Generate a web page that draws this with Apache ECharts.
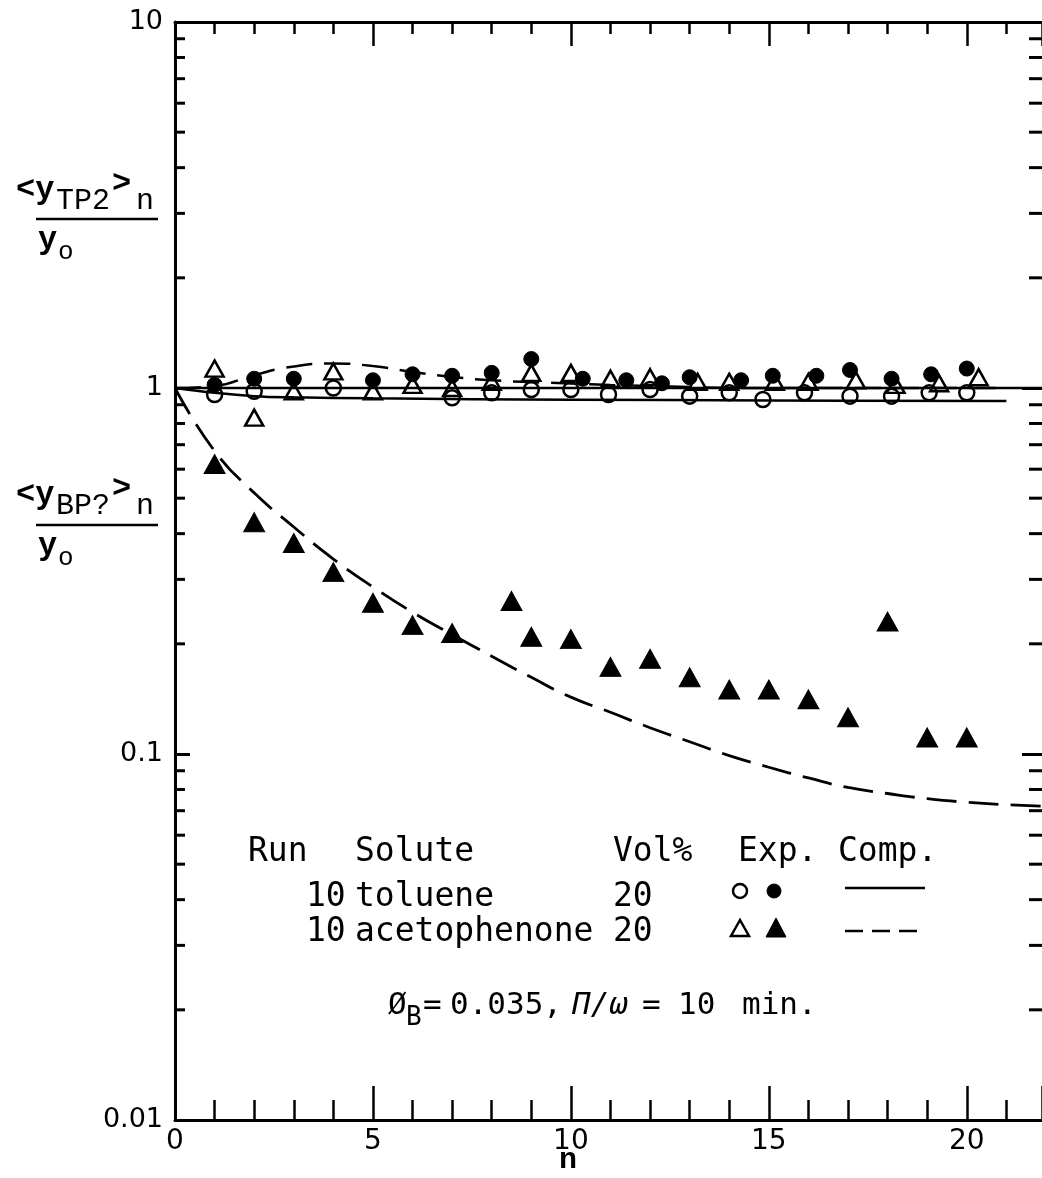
<!DOCTYPE html>
<html><head><meta charset="utf-8">
<script src="https://cdn.jsdelivr.net/npm/echarts@6/dist/echarts.min.js"></script>
<style>html,body{margin:0;padding:0;background:#fff;overflow:hidden}#c{width:1042px;height:1178px}</style>
</head><body><div id="c"></div>
<script>
// ---- tick labels ----
const xTickLabels = [0, 5, 10, 15, 20];
const yTickLabels = ['0.01', '0.1', '1', '10'];
const yMinorTicks = [0.02,0.03,0.04,0.05,0.06,0.07,0.08,0.09,
                     0.2,0.3,0.4,0.5,0.6,0.7,0.8,0.9,
                     2,3,4,5,6,7,8,9];
const xAxisTitle = 'n';

// ---- experimental data ----
const tolOpenX   = [1,2,4,7,8,9,10,10.95,12,13,14,14.85,15.9,17.05,18.1,19.05,20];
const tolOpenY   = [0.96,0.98,1.0,0.94,0.97,0.99,0.99,0.96,0.99,0.95,0.97,0.93,0.97,0.95,0.95,0.97,0.97];
const tolFilledX = [1,2,3,5,6,7,8,9,10.3,11.4,12.3,13,14.3,15.1,16.2,17.05,18.1,19.1,20];
const tolFilledY = [1.02,1.06,1.06,1.05,1.09,1.08,1.10,1.2,1.06,1.05,1.03,1.07,1.05,1.08,1.08,1.12,1.06,1.09,1.13];
const acOpenX    = [1,2,3,4,5,6,7,8,9,10,11,12,13.2,14,15.15,16,17.2,18.2,19.3,20.3];
const acOpenY    = [1.13,0.83,0.98,1.11,0.98,1.02,1.0,1.04,1.1,1.1,1.06,1.07,1.04,1.04,1.04,1.04,1.05,1.02,1.03,1.07];
const acFilledX  = [1,2,3,4,5,6,7,8.5,9,10,11,12,13,14,15,16,17,18,19,20];
const acFilledY  = [0.62,0.43,0.377,0.314,0.259,0.225,0.214,0.262,0.209,0.206,0.173,0.182,0.162,0.150,0.150,0.141,0.126,0.230,0.111,0.111];

// ---- computed curves ----
const compTolTopX = [0, 21.9];
const compTolTopY = [1, 1];
const compTolBotX = [0,1,2,3,5,10,15,21];
const compTolBotY = [1,0.97,0.95,0.943,0.937,0.929,0.925,0.921];
const compAcTopX  = [0,1,2,3,4,5,6,7,8,9,10,11,12,13,14,21];
const compAcTopY  = [1.0,1.012,1.085,1.145,1.166,1.148,1.106,1.072,1.05,1.038,1.029,1.019,1.012,1.006,1.0,1.0];
const compAcBotX  = [0,1,2,3,4,5,6,7,8,9,10,11,12,13,14,15,16,17,18,19,20,21,22];
const compAcBotY  = [1.0,0.673,0.517,0.417,0.341,0.286,0.244,0.212,0.185,0.162,0.143,0.130,0.118,0.108,0.099,0.092,0.086,0.081,0.078,0.0755,0.0738,0.0727,0.072];

const X_MIN = 0, X_MAX = 21.9, Y_MIN = 0.01, Y_MAX = 10;
const zip = (xs, ys) => xs.map((x, i) => [x, ys[i]]);
const FONT_MONO = '"DejaVu Sans Mono", monospace';
const FONT_SANS = '"DejaVu Sans", sans-serif';
const FONT_COUR = '"Liberation Mono", monospace';

const chart = echarts.init(document.getElementById('c'), null, {renderer: 'canvas'});

function xAx(pos, interval, len, showLine, showLabel) {
  return {
    type: 'value', position: pos, min: X_MIN, max: X_MAX, interval: interval,
    axisLine: {show: showLine, onZero: false, lineStyle: {color: '#000', width: 3}},
    axisTick: {show: true, inside: true, length: len, lineStyle: {color: '#000', width: 2.5}},
    axisLabel: {show: showLabel, margin: 8, color: '#000', fontFamily: FONT_SANS, fontSize: 28,
      showMaxLabel: false, formatter: v => xTickLabels.indexOf(v) >= 0 ? String(v) : ''},
    splitLine: {show: false}
  };
}
function yAx(pos, len, showLabel, showLine) {
  return {
    type: 'log', logBase: 10, position: pos, min: Y_MIN, max: Y_MAX,
    axisLine: {show: showLine, onZero: false, lineStyle: {color: '#000', width: 3}},
    axisTick: {show: true, inside: true, length: len, lineStyle: {color: '#000', width: 3}},
    axisLabel: {show: showLabel, margin: 12, color: '#000', fontFamily: FONT_SANS, fontSize: 27,
      formatter: v => yTickLabels[Math.round(Math.log10(v)) + 2] || ''},
    splitLine: {show: false}, minorTick: {show: false}
  };
}

function stl(t, font, align) {
  return {text: t, fill: '#000', font: font,
    textAlign: align || 'left', textVerticalAlign: 'middle', align: align || 'left', verticalAlign: 'middle'};
}
function text(x, y, t, size, family, weight, align) {
  return {type: 'text', x: x, y: y, silent: true, style: stl(t, (weight || 'normal') + ' ' + size + 'px ' + family, align)};
}
function hline(x1, x2, y, dash) {
  return {type: 'line', silent: true, shape: {x1: x1, y1: y, x2: x2, y2: y},
    style: {stroke: '#000', lineWidth: 2.5, lineDash: dash || null}};
}

const LS = 33;
const graphic = [
  // x axis title
  text(568, 1160, xAxisTitle, 30, FONT_COUR, 'bold', 'center'),
  // axis title 1
  text(16, 190, '<y', 32, FONT_COUR, 'bold'),
  text(56, 201, 'TP2', 30, FONT_COUR),
  text(112, 184, '>', 32, FONT_COUR, 'bold'),
  text(136, 201, 'n', 30, FONT_COUR),
  hline(36, 158, 219),
  text(38, 240, 'y', 32, FONT_COUR, 'bold'),
  text(58, 252, 'o', 26, FONT_COUR),
  // axis title 2
  text(16, 495, '<y', 32, FONT_COUR, 'bold'),
  text(56, 506, 'BP?', 30, FONT_COUR),
  text(112, 489, '>', 32, FONT_COUR, 'bold'),
  text(136, 506, 'n', 30, FONT_COUR),
  hline(36, 158, 525),
  text(38, 546, 'y', 32, FONT_COUR, 'bold'),
  text(58, 558, 'o', 26, FONT_COUR),
  // legend
  text(248, 852, 'Run', LS, FONT_MONO),
  text(355, 852, 'Solute', LS, FONT_MONO),
  text(613, 852, 'Vol%', LS, FONT_MONO),
  text(738, 852, 'Exp.', LS, FONT_MONO),
  text(838, 852, 'Comp.', LS, FONT_MONO),
  text(306, 897, '10', LS, FONT_MONO),
  text(355, 897, 'toluene', LS, FONT_MONO),
  text(613, 897, '20', LS, FONT_MONO),
  text(306, 932, '10', LS, FONT_MONO),
  text(355, 932, 'acetophenone', LS, FONT_MONO),
  text(613, 932, '20', LS, FONT_MONO),
  {type: 'circle', silent: true, shape: {cx: 740, cy: 891, r: 7}, style: {fill: 'none', stroke: '#000', lineWidth: 2.5}},
  {type: 'circle', silent: true, shape: {cx: 774, cy: 891, r: 7}, style: {fill: '#000', stroke: '#000', lineWidth: 1}},
  {type: 'polygon', silent: true, shape: {points: [[740, 920], [731, 936], [749, 936]]}, style: {fill: 'none', stroke: '#000', lineWidth: 2.5}},
  {type: 'polygon', silent: true, shape: {points: [[776, 918], [766, 937], [786, 937]]}, style: {fill: '#000', stroke: '#000', lineWidth: 1}},
  hline(845, 925, 888),
  hline(845, 925, 931, [18, 9]),
  text(388, 1006, 'Ø', 31, FONT_MONO),
  text(406, 1018, 'B', 26, FONT_MONO),
  text(423, 1006, '=', 31, FONT_MONO),
  text(450, 1006, '0.035,', 31, FONT_MONO),
  {type: 'text', x: 572, y: 1006, silent: true, style: stl('Π/ω', 'italic 31px ' + FONT_MONO)},
  text(642, 1006, '=', 31, FONT_MONO),
  text(678, 1006, '10', 31, FONT_MONO),
  text(742, 1006, 'min.', 31, FONT_MONO)
];

const lineBase = {type: 'line', showSymbol: false, symbol: 'none', silent: true, z: 3, xAxisIndex: 0, yAxisIndex: 0};

const option = {
  animation: false,
  backgroundColor: '#fff',
  grid: {left: 175, top: 22, right: 0, height: 1098, containLabel: false, outerBoundsMode: 'none'},
  xAxis: [
    xAx('bottom', 1, 20, true, true),
    xAx('bottom', 5, 34, false, false),
    xAx('top', 1, 12, true, false),
    xAx('top', 5, 24, false, false)
  ],
  yAxis: [yAx('left', 15, true, true), yAx('right', 20, false, false)],
  graphic: graphic,
  series: [
    {type: 'custom', coordinateSystem: 'cartesian2d', silent: true, clip: false, z: 5,
      xAxisIndex: 0, yAxisIndex: 0, encode: {x: 0, y: 1},
      data: yMinorTicks.map(v => [X_MIN, v]),
      renderItem: function (params, api) {
        const v = api.value(1);
        const pl = api.coord([X_MIN, v]);
        const pr = api.coord([X_MAX, v]);
        return {type: 'group', children: [
          {type: 'line', shape: {x1: pl[0], y1: pl[1], x2: pl[0] + 10, y2: pl[1]}, style: {stroke: '#000', lineWidth: 3}},
          {type: 'line', shape: {x1: pr[0] - 13, y1: pr[1], x2: pr[0], y2: pr[1]}, style: {stroke: '#000', lineWidth: 3}}
        ]};
      }},
    Object.assign({}, lineBase, {data: zip(compTolTopX, compTolTopY), lineStyle: {color: '#000', width: 2.5}}),
    Object.assign({}, lineBase, {data: zip(compTolBotX, compTolBotY), smooth: 0.4, lineStyle: {color: '#000', width: 2.5}}),
    Object.assign({}, lineBase, {data: zip(compAcTopX, compAcTopY), smooth: 0.5, lineStyle: {color: '#000', width: 2.5, type: [26, 12]}}),
    Object.assign({}, lineBase, {data: zip(compAcBotX, compAcBotY), smooth: 0.5, lineStyle: {color: '#000', width: 2.8, type: [30, 12]}}),
    {type: 'scatter', silent: true, z: 6, data: zip(acFilledX, acFilledY), symbol: 'triangle', symbolSize: [21, 19],
      itemStyle: {color: '#000', borderColor: '#000', borderWidth: 1, opacity: 1}},
    {type: 'scatter', silent: true, z: 6, data: zip(tolFilledX, tolFilledY), symbol: 'circle', symbolSize: 15,
      itemStyle: {color: '#000', borderColor: '#000', borderWidth: 1, opacity: 1}},
    {type: 'scatter', silent: true, z: 7, data: zip(acOpenX, acOpenY), symbol: 'triangle', symbolSize: [18, 16],
      itemStyle: {color: 'rgba(0,0,0,0)', borderColor: '#000', borderWidth: 2.5, opacity: 1}},
    {type: 'scatter', silent: true, z: 7, data: zip(tolOpenX, tolOpenY), symbol: 'circle', symbolSize: 15,
      itemStyle: {color: 'rgba(0,0,0,0)', borderColor: '#000', borderWidth: 2.5, opacity: 1}}
  ]
};
chart.setOption(option);
</script>
</body></html>
